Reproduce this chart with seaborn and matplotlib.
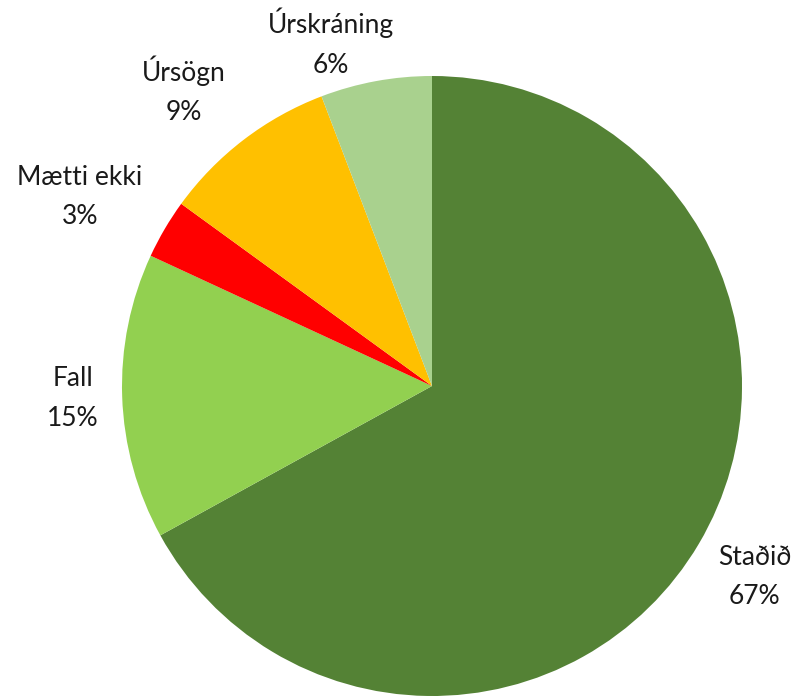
import matplotlib.pyplot as plt
import seaborn as sns
import numpy as np

categories = ["Staðið", "Fall", "Mætti ekki", "Úrsögn", "Úrskráning"]
shares = [67.0, 14.9, 3.1, 9.2, 5.8]
colors = ["#548235", "#92D050", "#FF0000", "#FFC000", "#A9D18E"]
# where each label sits: distance in pie radii, angle shift in degrees
label_dist = [1.21, 1.16, 1.29, 1.245, 1.155]
label_shift = [0.0, 0.0, 2.2, 2.6, 6.0]

sns.set_theme(style="white")
plt.rcParams['font.family'] = ['Lato', 'DejaVu Sans']

fig = plt.figure(figsize=(8.02, 6.98), dpi=100)
ax = fig.add_axes([0, 0, 1, 1])

r = 310.0
cx, cy = 432.0, 386.0
wedges, _ = ax.pie(shares, colors=colors, startangle=90, counterclock=False,
                   radius=1, wedgeprops=dict(linewidth=0))

total = sum(shares)
for w, name, val, d, s in zip(wedges, categories, shares, label_dist, label_shift):
    ang = np.deg2rad((w.theta1 + w.theta2) / 2 + s)
    ax.text(d * np.cos(ang), d * np.sin(ang), f"{name}\n{round(100 * val / total)}%",
            ha="center", va="center", fontsize=19, linespacing=1.72, color="#1a1a1a")

ax.set_xlim(-cx / r, (802 - cx) / r)
ax.set_ylim(-(698 - cy) / r, cy / r)
ax.set_aspect("equal")
ax.axis("off")

fig.savefig("out.png", dpi=100, facecolor="white")
